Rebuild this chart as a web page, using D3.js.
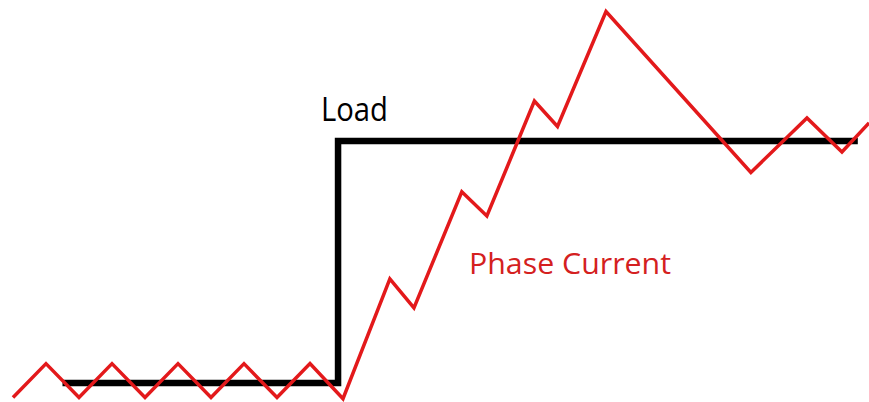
<!DOCTYPE html>
<html>
<head>
<meta charset="utf-8">
<script src="https://cdn.jsdelivr.net/npm/d3@7"></script>
<style>
  html, body { margin: 0; padding: 0; background: #fff; }
  svg { display: block; }
</style>
</head>
<body>
<div id="vis"></div>
<script>
// time (arbitrary units) and level (load low = 0, load high = 1)
var loadTime = [1.5, 9.85, 9.85, 25.6];
var loadLevel = [0, 0, 1, 1];

var currentTime = [0, 1, 2, 3, 4, 5, 6, 7, 8, 9, 10,
  11.42, 12.15, 13.6, 14.36, 15.8, 16.5, 17.97, 22.36, 24.06, 25.12, 25.94];
var currentLevel = [-0.06, 0.08, -0.06, 0.08, -0.06, 0.08, -0.06, 0.08, -0.06, 0.08, -0.065,
  0.43, 0.31, 0.79, 0.69, 1.165, 1.06, 1.535, 0.87, 1.095, 0.955, 1.075];

var labels = ['Load', 'Phase Current'];

var width = 869;
var height = 402;

var x = d3.scaleLinear().domain([0, 26]).range([13, 871]);
var y = d3.scaleLinear().domain([0, 1]).range([383, 141]);

var svg = d3.select('#vis')
  .append('svg')
  .attr('width', width)
  .attr('height', height);

var line = d3.line()
  .x(function (d) { return x(d[0]); })
  .y(function (d) { return y(d[1]); });

var loadData = d3.zip(loadTime, loadLevel);
var currentData = d3.zip(currentTime, currentLevel);

svg.append('path')
  .datum(loadData)
  .attr('d', line)
  .attr('fill', 'none')
  .attr('stroke', '#000')
  .attr('stroke-width', 6.5)
  .attr('stroke-linejoin', 'miter');

svg.append('path')
  .datum(currentData)
  .attr('d', line)
  .attr('fill', 'none')
  .attr('stroke', '#e3191b')
  .attr('stroke-width', 3.5)
  .attr('stroke-linejoin', 'miter');

svg.append('text')
  .attr('x', 321)
  .attr('y', 121)
  .attr('textLength', 67)
  .attr('lengthAdjust', 'spacingAndGlyphs')
  .style('font-family', 'Open Sans')
  .style('font-size', '32px')
  .style('fill', '#000')
  .text(labels[0]);

svg.append('text')
  .attr('x', 469)
  .attr('y', 274)
  .attr('textLength', 202)
  .attr('lengthAdjust', 'spacingAndGlyphs')
  .style('font-family', 'Open Sans')
  .style('font-size', '30px')
  .style('fill', '#d42020')
  .text(labels[1]);
</script>
</body>
</html>
